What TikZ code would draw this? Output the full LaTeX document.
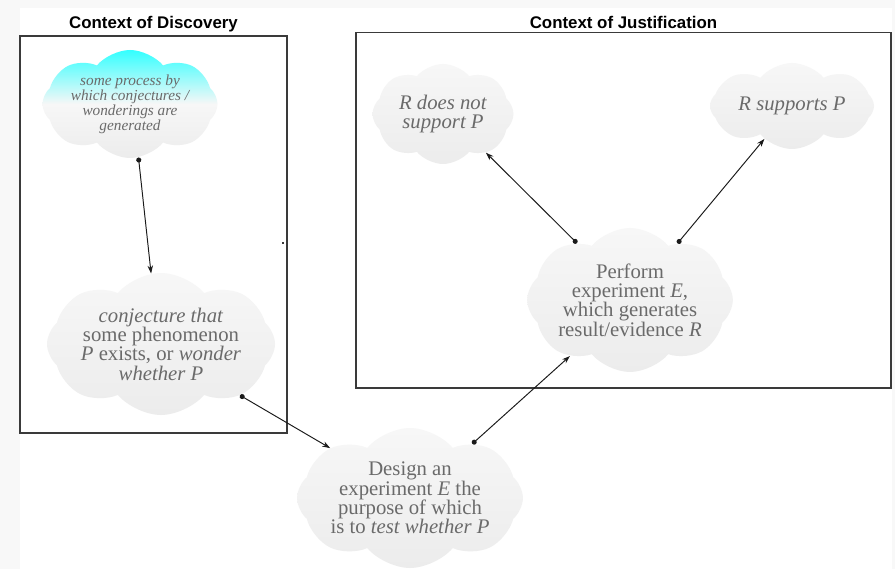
\documentclass[tikz,border=0pt]{standalone}
\usepackage{fontspec}
\setmainfont{Liberation Serif}
\setsansfont{Liberation Sans}
\usetikzlibrary{arrows.meta,positioning,shapes.symbols}
\definecolor{pagegray}{HTML}{F8F8F8}
\definecolor{ink}{HTML}{1A1A1A}
\definecolor{boxline}{HTML}{3A3A3A}
\definecolor{cloudtxt}{HTML}{6A6A6A}
\definecolor{cloudtop}{HTML}{F7F7F7}
\definecolor{cloudbot}{HTML}{ECECEC}
\definecolor{seedcyan}{HTML}{33FFFF}
\tikzset{
  puff/.style={cloud,cloud puffs=8,cloud puff arc=100,cloud ignores aspect,
               draw=none,top color=cloudtop,bottom color=cloudbot,
               align=center,inner sep=0pt,text=cloudtxt,
               font=\fontsize{11.8}{11}\selectfont},
  seedpuff/.style={puff,top color=seedcyan,bottom color=cloudbot,
                   middle color=cloudtop,
                   font=\itshape\fontsize{8.7}{8.5}\selectfont},
  ctxbox/.style={draw=boxline,line width=0.8pt,fill=white,inner sep=0pt},
  ctxtitle/.style={font=\sffamily\bfseries\fontsize{9.6}{11}\selectfont,
                   text=black,inner sep=0pt},
  linkarr/.style={{Circle[length=1mm]}-{Stealth[length=1.6mm,width=1.1mm]},
                  line width=0.55pt,draw=ink}
}
\begin{document}
\begin{tikzpicture}[x=1cm,y=1cm]
    \path[use as bounding box] (0,0) rectangle (17.9,-11.38);
    \fill[pagegray] (0,0) rectangle (17.9,-11.38);
    \fill[white] (0.4,-0.16) rectangle (17.84,-11.38);

    % the two contexts
    \node[ctxbox,minimum width=5.34cm,minimum height=7.94cm] (discbox) at (3.07,-4.69) {};
    \node[ctxbox,minimum width=10.7cm,minimum height=7.11cm] (justbox) at (12.47,-4.205) {};
    \node[ctxtitle,above=1.8pt of discbox] (disctitle) {Context of Discovery};
    \node[ctxtitle,above=1.8pt of justbox] (justtitle) {Context of Justification};
    \fill[boxline] (5.63,-4.85) rectangle (5.67,-4.89);

    % clouds
    \node[seedpuff,minimum width=3.5cm,minimum height=2.16cm] (seed) at (2.6,-2.08)
      {some process by\\which conjectures /\\wonderings are\\generated};
    \node[puff,minimum width=4.56cm,minimum height=2.84cm] (conj) at (3.22,-6.88)
      {\textit{conjecture that}\\some phenomenon\\\textit{P} exists, or \textit{wonder}\\\textit{whether P}};
    \node[puff,minimum width=4.5cm,minimum height=2.8cm] (design) at (8.2,-9.96)
      {Design an\\experiment \textit{E} the\\purpose of which\\is to \textit{test whether P}};
    \node[puff,minimum width=3.92cm,minimum height=2.88cm] (perform) at (12.6,-6.0)
      {Perform\\experiment \textit{E},\\which generates\\result/evidence \textit{R}};
    \node[puff,minimum width=2.82cm,minimum height=2.0cm] (notsup) at (8.86,-2.28)
      {\textit{R does not}\\\textit{support P}};
    \node[puff,minimum width=3.28cm,minimum height=1.72cm] (sup) at (15.84,-2.12)
      {\textit{R supports P}};

    % links
    \draw[linkarr] (seed.-81) -- (conj.98);
    \draw[linkarr] (conj.-33) -- (design.148);
    \draw[linkarr] (design.41) -- (perform.-137);
    \draw[linkarr] (perform.133) -- (notsup.-42);
    \draw[linkarr] (perform.50) -- (sup.-130);
  \end{tikzpicture}
\end{document}
